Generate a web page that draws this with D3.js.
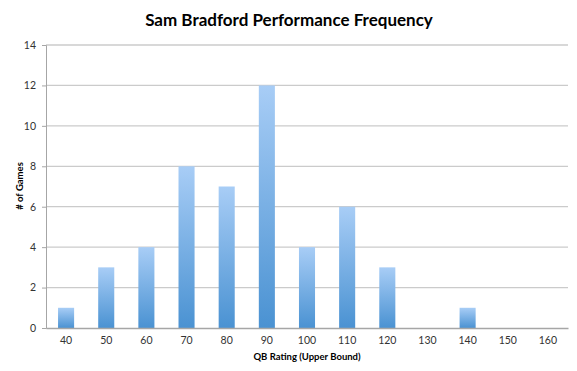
<!DOCTYPE html>
<html lang="en">
<head>
  <meta charset="utf-8">
  <title>Sam Bradford Performance Frequency</title>
  <script src="https://d3js.org/d3.v7.min.js"></script>
  <style>
    body { margin: 0; background: #fff; }
    text { font-family: Lato, "Open Sans", sans-serif; }
  </style>
</head>
<body>
<script>
  const ratings = ["40", "50", "60", "70", "80", "90", "100", "110", "120", "130", "140", "150", "160"];
  const games = [1, 3, 4, 8, 7, 12, 4, 6, 3, 0, 1, 0, 0];
  const yTicks = [0, 2, 4, 6, 8, 10, 12, 14];

  const width = 577, height = 371;
  const margin = {top: 45, right: 9, bottom: 43, left: 46};

  const svg = d3.select("body").append("svg")
      .attr("width", width)
      .attr("height", height);

  const grad = svg.append("defs").append("linearGradient")
      .attr("id", "barGrad")
      .attr("x1", 0).attr("y1", 0).attr("x2", 0).attr("y2", 1);
  grad.append("stop").attr("offset", "0%").attr("stop-color", "#a8cdf6");
  grad.append("stop").attr("offset", "100%").attr("stop-color", "#4a92d2");

  const x = d3.scaleBand()
      .domain(ratings)
      .range([margin.left, width - margin.right])
      .paddingInner(0.6)
      .paddingOuter(0.3);

  const y = d3.scaleLinear()
      .domain([0, 14])
      .range([height - margin.bottom, margin.top]);

  // gridlines
  svg.append("g")
    .selectAll("line")
    .data(yTicks.filter(d => d > 0))
    .join("line")
      .attr("x1", margin.left)
      .attr("x2", width - margin.right)
      .attr("y1", d => y(d))
      .attr("y2", d => y(d))
      .attr("stroke", "#cbcbcb")
      .attr("stroke-width", 1.3);

  // bars
  svg.append("g")
    .selectAll("rect")
    .data(games)
    .join("rect")
      .attr("x", (d, i) => x(ratings[i]))
      .attr("width", x.bandwidth())
      .attr("y", d => y(d))
      .attr("height", d => y(0) - y(d))
      .attr("fill", "url(#barGrad)");

  // y axis
  const yAxis = svg.append("g")
      .attr("transform", `translate(${margin.left},0)`)
      .call(d3.axisLeft(y).tickValues(yTicks).tickSize(4).tickPadding(6));
  yAxis.select(".domain").attr("stroke", "#a6a6a6");
  yAxis.selectAll(".tick line").attr("stroke", "#a6a6a6");
  yAxis.selectAll("text").attr("font-size", 10.5).attr("fill", "#333");

  // x axis
  const xAxis = svg.append("g")
      .attr("transform", `translate(0,${height - margin.bottom})`)
      .call(d3.axisBottom(x).tickSize(0).tickPadding(9));
  xAxis.select(".domain").attr("stroke", "#a6a6a6").attr("stroke-width", 1.3);
  xAxis.selectAll("text").attr("font-size", 10.5).attr("fill", "#333");

  // title
  svg.append("text")
      .attr("x", 289)
      .attr("y", 26)
      .attr("text-anchor", "middle")
      .attr("font-size", 17)
      .attr("font-weight", "bold")
      .text("Sam Bradford Performance Frequency");

  svg.append("text")
      .attr("x", (margin.left + width - margin.right) / 2)
      .attr("y", 360)
      .attr("text-anchor", "middle")
      .attr("font-size", 9.5)
      .attr("font-weight", "bold")
      .text("QB Rating (Upper Bound)");

  svg.append("text")
      .attr("transform", "translate(23,186) rotate(-90)")
      .attr("text-anchor", "middle")
      .attr("font-size", 9.5)
      .attr("font-weight", "bold")
      .text("# of Games");
</script>
</body>
</html>
